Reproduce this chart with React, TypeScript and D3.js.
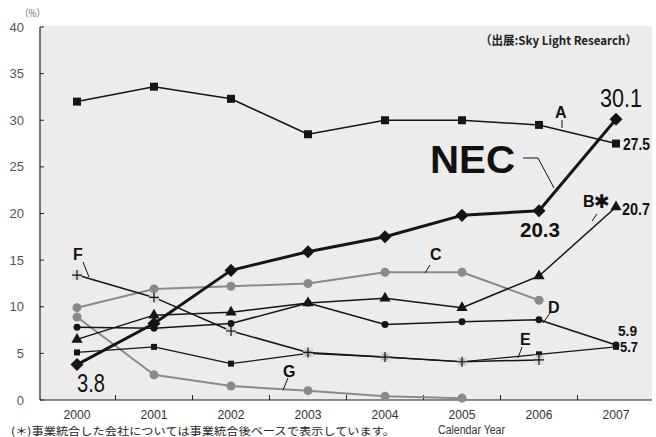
import React from "react";
import * as d3 from "d3";

const years = ["2000", "2001", "2002", "2003", "2004", "2005", "2006", "2007"];
const yTicks = [0, 5, 10, 15, 20, 25, 30, 35, 40];

const seriesA = [32.0, 33.6, 32.3, 28.5, 30.0, 30.0, 29.5, 27.5];
const seriesNEC = [3.8, 8.2, 13.9, 15.9, 17.5, 19.8, 20.3, 30.1];
const seriesB = [6.5, 9.1, 9.4, 10.4, 10.9, 9.9, 13.3, 20.7];
const seriesC = [9.9, 11.9, 12.2, 12.5, 13.7, 13.7, 10.7, null];
const seriesD = [7.8, 7.7, 8.2, 10.4, 8.1, 8.4, 8.6, 5.9];
const seriesE = [5.1, 5.7, 3.9, 5.0, 4.6, 4.1, 4.9, 5.7];
const seriesF = [13.4, 11.0, 7.4, 5.1, 4.6, 4.1, 4.3, null];
const seriesG = [8.9, 2.7, 1.5, 1.0, 0.4, 0.2, null, null];

const BLACK = "#151515";
const GRAY = "#8a8a8a";

type Series = {
  name: string;
  values: (number | null)[];
  color: string;
  width: number;
  symbol: d3.SymbolType | "plus";
  size: number;
  rotate?: number;
};

const series: Series[] = [
  { name: "G", values: seriesG, color: GRAY, width: 2, symbol: d3.symbolCircle, size: 64 },
  { name: "C", values: seriesC, color: GRAY, width: 2, symbol: d3.symbolCircle, size: 64 },
  { name: "E", values: seriesE, color: BLACK, width: 1.2, symbol: d3.symbolSquare, size: 36 },
  { name: "F", values: seriesF, color: BLACK, width: 1.5, symbol: "plus", size: 10 },
  { name: "D", values: seriesD, color: BLACK, width: 1.5, symbol: d3.symbolCircle, size: 38 },
  { name: "B", values: seriesB, color: BLACK, width: 1.5, symbol: d3.symbolTriangle, size: 55 },
  { name: "A", values: seriesA, color: BLACK, width: 1.5, symbol: d3.symbolSquare, size: 64 },
  { name: "NEC", values: seriesNEC, color: BLACK, width: 3, symbol: d3.symbolSquare, size: 85, rotate: 45 },
];

const seriesLabels = [
  { text: "A", x: 555, y: 118, size: 16, line: [[562, 120], [562, 128]] },
  { text: "NEC", x: 430, y: 173, size: 39, len: 85, line: [[523, 158], [538, 158], [554, 188]] },
  { text: "B", x: 583, y: 207, size: 16, line: [[597, 214], [592, 221]] },
  { text: "C", x: 430, y: 260, size: 16, line: [[430, 265], [425, 273]] },
  { text: "D", x: 548, y: 313, size: 16, line: [[550, 313], [543, 323]] },
  { text: "E", x: 520, y: 345, size: 16, line: [[522, 347], [518, 358]] },
  { text: "F", x: 73, y: 260, size: 16, line: [[83, 262], [89, 277]] },
  { text: "G", x: 283, y: 377, size: 16, line: [[288, 378], [283, 390]] },
];

const valueLabels = [
  { text: "30.1", x: 600, y: 107, size: 26, len: 42, bold: false },
  { text: "3.8", x: 77, y: 392, size: 26, len: 28, bold: false },
  { text: "27.5", x: 623, y: 150, size: 16, len: 27, bold: true },
  { text: "20.7", x: 622, y: 215, size: 16, len: 28, bold: true },
  { text: "20.3", x: 520, y: 237, size: 20, len: 40, bold: true },
  { text: "5.9", x: 618, y: 336, size: 15, len: 19, bold: true },
  { text: "5.7", x: 620, y: 352, size: 15, len: 18, bold: true },
];

const W = 656;
const H = 437;
const plotLeft = 40;
const plotRight = 652;
const plotTop = 26;
const plotBottom = 400;

export default function App() {
  const x = d3.scaleBand<string>().domain(years).range([38.5, 654.5]);
  const y = d3.scaleLinear().domain([0, 40]).range([400, 27]);
  const cx = (i: number) => (x(years[i]) as number) + x.bandwidth() / 2;

  const line = d3
    .line<number | null>()
    .defined((d) => d !== null)
    .x((_, i) => cx(i))
    .y((d) => y(d as number));

  const font = "'Liberation Sans', Arial, sans-serif";

  return (
    <svg width={W} height={H} style={{ position: "absolute", left: 0, top: 0, background: "#fff" }}>
      <rect x={plotLeft} y={plotTop} width={plotRight - plotLeft} height={plotBottom - plotTop} fill="#ececec" />
      {/* axes */}
      <line x1={plotLeft} x2={plotLeft} y1={y(40)} y2={plotBottom} stroke="#222" strokeWidth={1.2} />
      <line x1={plotLeft} x2={plotRight} y1={plotBottom} y2={plotBottom} stroke="#222" strokeWidth={1.2} />
      {yTicks.map((t) => (
        <g key={t}>
          <line x1={plotLeft} x2={plotLeft + 4} y1={y(t)} y2={y(t)} stroke="#222" />
          <text x={24} y={y(t)} dy="0.35em" textAnchor="end" fontSize={13} fill="#555" fontFamily={font}>
            {t}
          </text>
        </g>
      ))}
      {years.slice(1).map((yr) => (
        <line key={yr} x1={x(yr)} x2={x(yr)} y1={plotBottom} y2={plotBottom - 5} stroke="#222" />
      ))}
      {years.map((yr) => (
        <text key={yr} x={(x(yr) as number) + x.bandwidth() / 2} y={419} textAnchor="middle" fontSize={12} fill="#333" fontFamily={font} textLength={27} lengthAdjust="spacingAndGlyphs">
          {yr}
        </text>
      ))}
      <text x={20} y={17} fontSize={10} fill="#666" fontFamily="'Noto Sans CJK JP', sans-serif" textLength={25} lengthAdjust="spacingAndGlyphs">
        （%）
      </text>
      {/* series */}
      {series.map((s) => (
        <g key={s.name}>
          <path d={line(s.values) || ""} fill="none" stroke={s.color} strokeWidth={s.width} strokeLinejoin="round" />
          {s.values.map((v, i) => {
            if (v === null) return null;
            const px = cx(i);
            const py = y(v);
            if (s.symbol === "plus") {
              const h = s.size / 2;
              return (
                <g key={i}>
                  <rect x={px - h} y={py - h} width={s.size} height={s.size} fill="#dcdcdc" opacity={0.8} />
                  <path d={`M${px - h},${py}H${px + h}M${px},${py - h}V${py + h}`} stroke={s.color} strokeWidth={1.2} />
                </g>
              );
            }
            const p = d3.symbol().type(s.symbol as d3.SymbolType).size(s.size)();
            return (
              <path key={i} d={p || ""} transform={`translate(${px},${py}) rotate(${s.rotate || 0})`} fill={s.color} />
            );
          })}
        </g>
      ))}
      {/* series labels */}
      {seriesLabels.map((l) => (
        <g key={l.text}>
          <polyline points={l.line.map((p) => p.join(",")).join(" ")} fill="none" stroke="#111" strokeWidth={1} />
          <text
            x={l.x}
            y={l.y}
            fontSize={l.size}
            fontWeight="bold"
            fill="#111"
            fontFamily={font}
            {...(l.len ? { textLength: l.len, lengthAdjust: "spacingAndGlyphs" } : {})}
          >
            {l.text}
          </text>
        </g>
      ))}
      <text x={594} y={208} fontSize={19} fontWeight="bold" fill="#111" fontFamily="'DejaVu Sans', sans-serif">
        ✱
      </text>
      {valueLabels.map((l) => (
        <text
          key={l.text}
          x={l.x}
          y={l.y}
          fontSize={l.size}
          fontWeight={l.bold ? "bold" : "normal"}
          fill="#111"
          fontFamily={font}
          textLength={l.len}
          lengthAdjust="spacingAndGlyphs"
        >
          {l.text}
        </text>
      ))}
      <text x={480} y={45} fontSize={12} fontWeight="bold" fill="#222" fontFamily="'Noto Sans CJK JP', sans-serif" textLength={157} lengthAdjust="spacingAndGlyphs">
        （出展:Sky Light Research）
      </text>
      <text x={11} y={435} fontSize={10.5} fill="#222" fontFamily="'Noto Sans CJK JP', sans-serif" textLength={384} lengthAdjust="spacingAndGlyphs">
        (＊)事業統合した会社については事業統合後ベースで表示しています。
      </text>
      <text x={438} y={434} fontSize={12} fill="#333" fontFamily={font} textLength={67} lengthAdjust="spacingAndGlyphs">
        Calendar Year
      </text>
    </svg>
  );
}
